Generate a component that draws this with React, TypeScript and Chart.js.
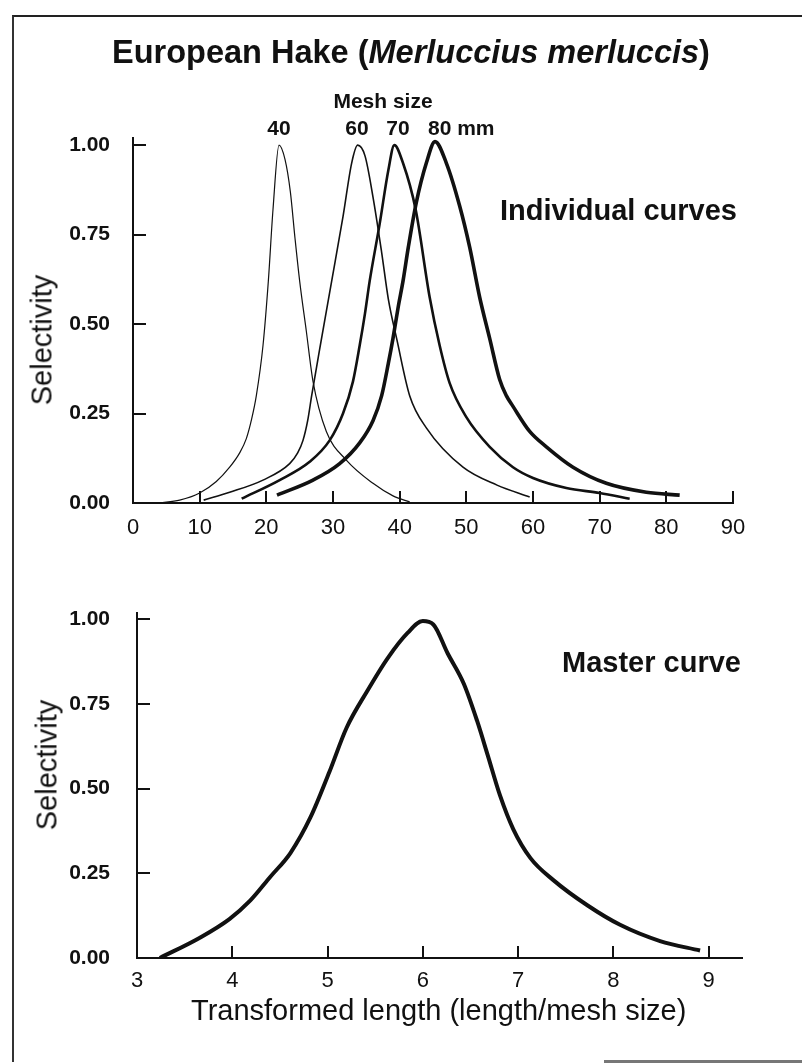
import React, { useEffect, useRef } from "react";
import { Chart, registerables } from "chart.js";

Chart.register(...registerables);

const FONT = "'Liberation Sans', Arial, Helvetica, sans-serif";
const INK = "#111111";

// ---- Top panel: individual selectivity curves (length, cm) ----
const mesh40X = [4, 7, 10, 12.5, 14.5, 16, 17, 17.8, 18.5, 19.5, 20.3, 21, 21.9, 22.8, 23.6, 24.3, 25, 26, 27, 29, 32, 36, 39, 41.5];
const mesh40Y = [0, 0.008, 0.028, 0.06, 0.1, 0.14, 0.18, 0.235, 0.3, 0.44, 0.62, 0.82, 1.0, 0.96, 0.87, 0.74, 0.62, 0.48, 0.34, 0.2, 0.12, 0.055, 0.02, 0.003];

const mesh60X = [10.6, 14.5, 19.5, 23.5, 24.7, 25.5, 26.2, 26.8, 28, 29.8, 31.5, 32.8, 33.7, 34.8, 36, 37.3, 38.3, 39.6, 41.5, 44, 49.5, 54.6, 59.5];
const mesh60Y = [0.008, 0.03, 0.064, 0.11, 0.14, 0.175, 0.23, 0.3, 0.43, 0.62, 0.8, 0.95, 1.0, 0.97, 0.855, 0.7, 0.57, 0.455, 0.3, 0.21, 0.1, 0.05, 0.017];

const mesh70X = [16.3, 22, 26.5, 29.5, 31.5, 33, 34, 34.8, 35.5, 37, 38.3, 39.2, 40.5, 42.4, 44.5, 46, 47.5, 50, 53.5, 57, 60, 65, 70, 74.5];
const mesh70Y = [0.012, 0.064, 0.115, 0.175, 0.25, 0.34, 0.44, 0.53, 0.62, 0.78, 0.93, 1.0, 0.95, 0.82, 0.575, 0.44, 0.335, 0.24, 0.157, 0.1, 0.07, 0.042, 0.028, 0.012];

const mesh80X = [21.6, 27, 31, 34, 36, 37.3, 38.3, 39, 39.8, 40.5, 41.3, 42.5, 44, 45.3, 47, 49, 50.5, 52, 53.5, 55, 56, 57, 59.5, 62, 66, 71, 77, 82];
const mesh80Y = [0.022, 0.064, 0.11, 0.168, 0.23, 0.3, 0.39, 0.46, 0.55, 0.62, 0.715, 0.84, 0.95, 1.01, 0.95, 0.83, 0.715, 0.575, 0.46, 0.345, 0.3, 0.27, 0.2, 0.157, 0.1, 0.055, 0.03, 0.022];

// ---- Bottom panel: master curve (length / mesh size) ----
const masterX = [3.24, 3.66, 3.97, 4.19, 4.4, 4.61, 4.82, 5.02, 5.2, 5.42, 5.63, 5.84, 6.0, 6.11, 6.26, 6.43, 6.57, 6.68, 6.81, 6.95, 7.13, 7.37, 7.73, 8.07, 8.49, 8.91];
const masterY = [0, 0.06, 0.115, 0.17, 0.24, 0.31, 0.415, 0.55, 0.68, 0.79, 0.885, 0.96, 0.995, 0.985, 0.9, 0.81, 0.7, 0.6, 0.48, 0.38, 0.295, 0.23, 0.155, 0.098, 0.05, 0.022];

// ---- Ticks and labels ----
const topXTicks = [0, 10, 20, 30, 40, 50, 60, 70, 80, 90];
const bottomXTicks = [3, 4, 5, 6, 7, 8, 9];
const yTicks = [0, 0.25, 0.5, 0.75, 1.0];
const meshLabels = ["40", "60", "70", "80 mm"];

const pts = (xs: number[], ys: number[]) => xs.map((x, i) => ({ x, y: ys[i] }));

function lineDs(label: string, xs: number[], ys: number[], width: number) {
  return {
    label,
    data: pts(xs, ys),
    borderColor: INK,
    borderWidth: width,
    pointRadius: 0,
    fill: false,
    cubicInterpolationMode: "monotone" as const,
  };
}

function makeOptions(cfg: {
  xMin: number; xMax: number; xTicks: number[];
  yWidth: number; xHeight: number; padTop: number; padRight: number;
  yPad: number; xPad: number; xLabel: (v: number) => string;
}) {
  return {
    responsive: false,
    animation: false as const,
    events: [],
    layout: { padding: { top: cfg.padTop, right: cfg.padRight, left: 0, bottom: 0 } },
    plugins: { legend: { display: false }, tooltip: { enabled: false }, title: { display: false } },
    scales: {
      x: {
        type: "linear" as const,
        min: cfg.xMin,
        max: cfg.xMax,
        afterBuildTicks: (s: any) => { s.ticks = cfg.xTicks.map((v) => ({ value: v })); },
        afterFit: (s: any) => { s.height = cfg.xHeight; },
        border: { display: true, color: INK, width: 2 },
        grid: { display: true, drawOnChartArea: false, drawTicks: true, tickLength: -12, color: INK, lineWidth: 2 },
        ticks: {
          autoSkip: false, maxRotation: 0, padding: cfg.xPad, color: INK,
          font: { family: FONT, size: 22 },
          callback: (v: any) => cfg.xLabel(Number(v)),
        },
      },
      y: {
        type: "linear" as const,
        min: 0,
        max: 1.02,
        afterBuildTicks: (s: any) => { s.ticks = yTicks.map((v) => ({ value: v })); },
        afterFit: (s: any) => { s.width = cfg.yWidth; },
        border: { display: true, color: INK, width: 2 },
        grid: { display: true, drawOnChartArea: false, drawTicks: true, tickLength: -13, color: INK, lineWidth: 2 },
        ticks: {
          padding: cfg.yPad, color: INK,
          font: { family: FONT, size: 21, weight: "bold" as const },
          callback: (v: any) => Number(v).toFixed(2),
        },
      },
    },
  };
}

function Label(props: { x: number; y: number; children: React.ReactNode; size: number; bold?: boolean; anchor?: "center" | "left"; rotate?: boolean }) {
  const { x, y, children, size, bold, anchor = "center", rotate } = props;
  const tx = anchor === "center" ? "-50%" : "0";
  return (
    <div
      style={{
        position: "absolute",
        left: x,
        top: y,
        transform: `translate(${tx}, -50%)${rotate ? " rotate(-90deg)" : ""}`,
        transformOrigin: rotate ? "50% 50%" : undefined,
        fontFamily: FONT,
        fontSize: size,
        fontWeight: bold ? "bold" : "normal",
        lineHeight: 1,
        whiteSpace: "nowrap",
        color: INK,
      }}
    >
      {children}
    </div>
  );
}

export default function App() {
  const topRef = useRef<HTMLCanvasElement | null>(null);
  const botRef = useRef<HTMLCanvasElement | null>(null);

  useEffect(() => {
    const top = new Chart(topRef.current as HTMLCanvasElement, {
      type: "line",
      data: {
        datasets: [
          lineDs("40 mm", mesh40X, mesh40Y, 1.2),
          lineDs("60 mm", mesh60X, mesh60Y, 1.6),
          lineDs("70 mm", mesh70X, mesh70Y, 2.6),
          lineDs("80 mm", mesh80X, mesh80Y, 3.6),
        ],
      },
      options: makeOptions({
        xMin: 0, xMax: 90, xTicks: topXTicks,
        yWidth: 133, xHeight: 57, padTop: 138, padRight: 69,
        yPad: 36, xPad: 24, xLabel: (v) => String(v),
      }) as any,
    });
    const bot = new Chart(botRef.current as HTMLCanvasElement, {
      type: "line",
      data: { datasets: [lineDs("Master curve", masterX, masterY, 4)] },
      options: makeOptions({
        xMin: 3, xMax: 9.35, xTicks: bottomXTicks,
        yWidth: 137, xHeight: 106, padTop: 35, padRight: 60,
        yPad: 40, xPad: 22, xLabel: (v) => String(v),
      }) as any,
    });
    return () => { top.destroy(); bot.destroy(); };
  }, []);

  return (
    <div style={{ position: "absolute", left: 0, top: 0, width: 802, height: 1064, overflow: "hidden", background: "#fff" }}>
      {/* scanned frame */}
      <div style={{ position: "absolute", left: 12, top: 15, width: 800, height: 1045, borderLeft: "2px solid #333", borderTop: "2px solid #222" }} />
      <div style={{ position: "absolute", left: 604, top: 1060, width: 198, height: 3, background: "#777" }} />

      <canvas ref={topRef} width={802} height={560} style={{ position: "absolute", left: 0, top: 0, width: 802, height: 560 }} />
      <canvas ref={botRef} width={802} height={504} style={{ position: "absolute", left: 0, top: 560, width: 802, height: 504 }} />

      <Label x={411} y={52} size={32.5} bold>
        European Hake (<i>Merluccius merluccis</i>)
      </Label>
      <Label x={383} y={100} size={21} bold>Mesh size</Label>
      <Label x={279} y={127} size={21} bold>{meshLabels[0]}</Label>
      <Label x={357} y={127} size={21} bold>{meshLabels[1]}</Label>
      <Label x={398} y={127} size={21} bold>{meshLabels[2]}</Label>
      <Label x={428} y={127} size={21} bold anchor="left">{meshLabels[3]}</Label>
      <Label x={500} y={210} size={29} bold anchor="left">Individual curves</Label>
      <Label x={562} y={662} size={29} bold anchor="left">Master curve</Label>
      <Label x={42} y={340} size={29} rotate>Selectivity</Label>
      <Label x={47} y={765} size={29} rotate>Selectivity</Label>
      <Label x={191} y={1010} size={29} anchor="left">Transformed length (length/mesh size)</Label>
    </div>
  );
}
